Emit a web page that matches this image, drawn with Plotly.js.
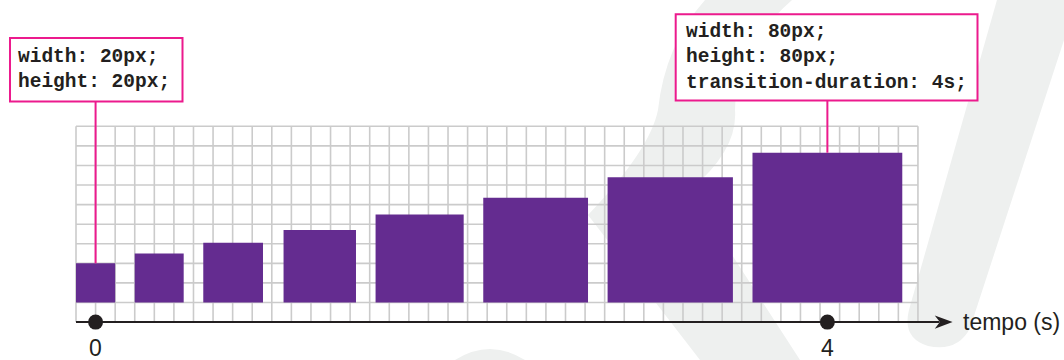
<!DOCTYPE html>
<html>
<head>
<meta charset="utf-8">
<script src="https://cdn.plot.ly/plotly-3.0.1.min.js"></script>
<style>
  html, body { margin: 0; padding: 0; background: #ffffff; }
  #chart { width: 1064px; height: 360px; }
</style>
</head>
<body>
<div id="chart"></div>
<script>
// ---- data (sizes in CSS px, as in the drawing) ----
const boxLefts   = [0, 30, 65, 106, 153, 208, 271.5, 345.5];       // left edge of each square along the timeline
const boxSizes   = [20, 25, 30.5, 37, 45, 53.5, 64, 76.5];         // width = height of each square
const timeValues = ['0', '4'];                                     // time labels at first and last square
const startLines = ['width: 20px;', 'height: 20px;'];
const endLines   = ['width: 80px;', 'height: 80px;', 'transition-duration: 4s;'];
const axisLabel  = 'tempo (s)';

// ---- geometry helpers (picture scale) ----
const W = 1064, H = 360;
const PX = 1.958;            // screen pixels per CSS px unit (one grid cell = 10 units)
const X0 = 76, Y0 = 302.5;   // screen position of unit origin
const ux = px => (px - X0) / PX;
const uy = py => (Y0 - py) / PX;
const pX = px => px / W;
const pY = py => 1 - py / H;

const PURPLE = '#642c90';
const PINK = '#ec1a8d';
const INK = '#231f20';
const GRID = '#cbcbcb';
const WM = '#eef0ef';

const centers = boxLefts.map((l, i) => l + boxSizes[i] / 2);
const last = boxSizes.length - 1;

function paperPath(cmds) {
  return cmds.map(c => {
    const op = c[0]; const nums = c.slice(1);
    const out = [];
    for (let i = 0; i < nums.length; i += 2) out.push(pX(nums[i]).toFixed(4) + ',' + pY(nums[i + 1]).toFixed(4));
    return op + ' ' + out.join(' ');
  }).join(' ') + ' Z';
}

const shapes = [];
// watermark
shapes.push({type: 'path', xref: 'paper', yref: 'paper', layer: 'below', fillcolor: WM, line: {width: 0},
  path: paperPath([['M', 997, 0], ['L', 1064, 0], ['L', 1064, 40], ['L', 970, 328], ['Q', 958, 352, 928, 346], ['Q', 902, 338, 909, 310]])});
shapes.push({type: 'path', xref: 'paper', yref: 'paper', layer: 'below', fillcolor: WM, line: {width: 0},
  path: paperPath([['M', 705, 0], ['L', 792, 0], ['Q', 735, 50, 735, 110], ['Q', 738, 150, 690, 190], ['L', 800, 360], ['L', 700, 360], ['L', 588, 215], ['Q', 650, 150, 658, 110], ['Q', 665, 45, 705, 0]])});
shapes.push({type: 'path', xref: 'paper', yref: 'paper', layer: 'below', fillcolor: WM, line: {width: 0},
  path: paperPath([['M', 455, 360], ['Q', 490, 338, 525, 360]])});

// grid (10-unit cells)
for (let gx = 0; gx <= 430; gx += 10) {
  shapes.push({type: 'line', xref: 'x', yref: 'y', layer: 'below', x0: gx, x1: gx, y0: -10, y1: 90, line: {color: GRID, width: 1.6}});
}
for (let gy = -10; gy <= 90; gy += 10) {
  shapes.push({type: 'line', xref: 'x', yref: 'y', layer: 'below', x0: 0, x1: 430, y0: gy, y1: gy, line: {color: GRID, width: 1.6}});
}
// time axis + arrow head
shapes.push({type: 'line', xref: 'x', yref: 'y', layer: 'above', x0: 0, x1: 441, y0: -10, y1: -10, line: {color: INK, width: 2}});
shapes.push({type: 'path', xref: 'x', yref: 'y', layer: 'above', fillcolor: INK, line: {width: 0},
  path: 'M 447.7,-10 L 438.6,-6.6 L 441.2,-10 L 438.6,-13.4 Z'});

// connector lines from boxes to first and last square
shapes.push({type: 'line', xref: 'x', yref: 'y', layer: 'above', x0: centers[0], x1: centers[0], y0: boxSizes[0], y1: uy(102), line: {color: PINK, width: 2}});
shapes.push({type: 'line', xref: 'x', yref: 'y', layer: 'above', x0: centers[last], x1: centers[last], y0: boxSizes[last], y1: uy(101), line: {color: PINK, width: 2}});
// code boxes
shapes.push({type: 'rect', xref: 'paper', yref: 'paper', layer: 'above', x0: pX(10), x1: pX(182.5), y0: pY(38), y1: pY(101.5), fillcolor: '#ffffff', line: {color: PINK, width: 2}});
shapes.push({type: 'rect', xref: 'paper', yref: 'paper', layer: 'above', x0: pX(675.7), x1: pX(977.5), y0: pY(14.3), y1: pY(100.5), fillcolor: '#ffffff', line: {color: PINK, width: 2}});

const codeFont = {family: 'Liberation Mono, DejaVu Sans Mono, monospace', size: 19.5, color: INK, weight: 'bold'};
const sansFont = {family: 'Liberation Sans, Arial, sans-serif', size: 23, color: INK};

const annotations = [
  {xref: 'paper', yref: 'paper', x: pX(18), y: pY(69.5), xanchor: 'left', yanchor: 'middle', align: 'left',
   showarrow: false, borderwidth: 0, borderpad: 0, text: startLines.join('<br>'), font: codeFont},
  {xref: 'paper', yref: 'paper', x: pX(685.5), y: pY(57), xanchor: 'left', yanchor: 'middle', align: 'left',
   showarrow: false, borderwidth: 0, borderpad: 0, text: endLines.join('<br>'), font: codeFont},
  {xref: 'x', yref: 'y', x: centers[0], y: uy(347.5), xanchor: 'center', yanchor: 'middle', showarrow: false, borderpad: 0, text: timeValues[0], font: sansFont},
  {xref: 'x', yref: 'y', x: centers[last], y: uy(347.5), xanchor: 'center', yanchor: 'middle', showarrow: false, borderpad: 0, text: timeValues[1], font: sansFont},
  {xref: 'x', yref: 'y', x: ux(960.5), y: -10, xanchor: 'left', yanchor: 'middle', showarrow: false, text: axisLabel, font: sansFont}
];

const traces = [
  {type: 'bar', x: centers, y: boxSizes, width: boxSizes, base: 0,
   marker: {color: PURPLE, line: {width: 0}}, hoverinfo: 'skip', showlegend: false},
  {type: 'scatter', mode: 'markers', x: [centers[0], centers[last]], y: [-10, -10],
   marker: {size: 15, color: INK, line: {width: 0}}, hoverinfo: 'skip', showlegend: false, cliponaxis: false}
];

const layout = {
  width: W, height: H,
  margin: {l: 0, r: 0, t: 0, b: 0, pad: 0},
  paper_bgcolor: '#ffffff', plot_bgcolor: 'rgba(0,0,0,0)',
  showlegend: false,
  xaxis: {range: [ux(0), ux(W)], visible: false, fixedrange: true},
  yaxis: {range: [uy(H), uy(0)], visible: false, fixedrange: true},
  shapes: shapes,
  annotations: annotations
};

Plotly.newPlot('chart', traces, layout, {staticPlot: true, displayModeBar: false});
</script>
</body>
</html>
